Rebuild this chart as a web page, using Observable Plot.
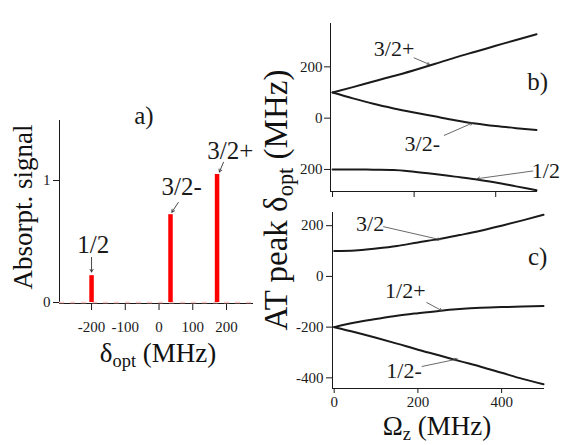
<!DOCTYPE html>
<html>
<head>
<meta charset="utf-8">
<script src="https://cdn.jsdelivr.net/npm/d3@7"></script>
<script src="https://cdn.jsdelivr.net/npm/@observablehq/plot@0.6"></script>
<style>
  html, body { margin: 0; padding: 0; background: #fff; }
  #wrap { position: relative; width: 581px; height: 445px; overflow: hidden; font-family: "Liberation Serif", "Times New Roman", serif; color: #111; }
  #wrap svg { position: absolute; left: 0; top: 0; background: transparent; }
  .title { position: absolute; font-size: 27px; line-height: 1; white-space: nowrap; transform: translate(-50%, -50%); }
  .rot { transform: translate(-50%, -50%) rotate(-90deg); }
  .title sub { font-size: 0.68em; vertical-align: -0.3em; line-height: 0; }
</style>
</head>
<body>
<div id="wrap">
  <div class="title rot" style="left:23px; top:207px;">Absorpt. signal</div>
  <div class="title" style="left:158px; top:353px;">δ<sub>opt</sub> (MHz)</div>
  <div class="title rot" style="left:276px; top:200px; font-size:33px;">AT peak δ<sub>opt</sub> (MHz)</div>
  <div class="title" style="left:437px; top:426px;">Ω<sub>z</sub> (MHz)</div>
</div>
<script>
// ---------- Panel a: absorption spectrum ----------
const lineNames = ["1/2", "3/2-", "3/2+"];
const lineDelta = [-200, 34, 172];      // MHz
const lineAmp = [0.22, 0.72, 1.05];     // absorption signal
const tickA_x = [-200, -100, 0, 100, 200];
const tickA_y = [0, 1];
// annotation anchors (data coordinates)
const labA_x = [-195, 67, 211];
const labA_y = [0.47, 0.945, 1.245];
const arrA_x1 = [-200, 57, 191], arrA_y1 = [0.37, 0.82, 1.15];
const arrA_x2 = [-200, 38, 179], arrA_y2 = [0.25, 0.74, 1.07];

// ---------- Panels b and c: AT peak positions vs Omega_z ----------
const omega = [0, 50, 100, 150, 200, 250, 300, 350, 400, 450, 500];
const b_32p = [100, 121, 143, 164, 187, 211, 236, 259, 282, 305, 327];
const b_32m = [100, 77, 56, 38, 22, 7, -8, -21, -31, -39, -46];
const b_12  = [-200, -200, -201, -202, -209, -218, -228, -238, -251, -266, -281];
const c_32  = [100, 102, 110, 120, 134, 147, 163, 180, 200, 221, 243];
const c_12p = [-200, -182, -168, -155, -145, -136, -129, -124, -121, -119, -117];
const c_12m = [-200, -220, -242, -265, -289, -311, -334, -356, -380, -404, -425];
const tickBC_x = [0, 200, 400];
const tickB_y = [-200, 0, 200];
const tickC_y = [-400, -200, 0, 200];

const labB = ["3/2+", "3/2-", "1/2"];
const labB_x = [151, 220, 523], labB_y = [270, -100, -204];
const arrB_x1 = [200, 274, 491], arrB_y1 = [235, -67, -206];
const arrB_x2 = [238, 343, 355], arrB_y2 = [209, -19, -236];

const labC = ["3/2", "1/2+", "1/2-"];
const labC_x = [86, 170, 167], labC_y = [207, -56, -372];
const arrC_x1 = [118, 221, 210], arrC_y1 = [196, -103, -355];
const arrC_x2 = [253, 257, 294], arrC_y2 = [145, -135, -326];

const font = "Liberation Serif, Times New Roman, serif";
const W = 581, H = 445;
const ink = "#1a1a1a";

function series(ys, name) { return omega.map((o, i) => ({o, v: ys[i], name})); }
function rows(n, f) { return d3.range(n).map(f); }

const wrap = document.getElementById("wrap");

// Panel a
const barsA = rows(3, i => ({x: lineDelta[i], y: lineAmp[i]}));
const labelsA = rows(3, i => ({t: lineNames[i], x: labA_x[i], y: labA_y[i]}));
const arrowsA = rows(3, i => ({x1: arrA_x1[i], y1: arrA_y1[i], x2: arrA_x2[i], y2: arrA_y2[i]}));
const plotA = Plot.plot({
  width: W, height: H,
  marginLeft: 59, marginRight: 329, marginTop: 120, marginBottom: 142,
  style: {fontFamily: font, fontSize: "15px", color: ink, background: "transparent", overflow: "visible"},
  x: {domain: [-295, 277], ticks: tickA_x, tickFormat: d => String(d), tickSize: 7, tickPadding: 11, label: null, line: true},
  y: {domain: [-0.008, 1.492], ticks: tickA_y, tickFormat: d => String(d), tickSize: 6, tickPadding: 3, label: null, line: true},
  marks: [
    Plot.ruleY([0], {stroke: "#ffc4c4", strokeWidth: 1.5, strokeDasharray: "5,6"}),
    Plot.ruleX(barsA, {x: "x", y1: 0, y2: "y", stroke: "#ff0000", strokeWidth: 4.5}),
    Plot.arrow(arrowsA, {x1: "x1", y1: "y1", x2: "x2", y2: "y2", stroke: "#333", strokeWidth: 0.9, headLength: 5}),
    Plot.text(labelsA, {x: "x", y: "y", text: "t", fontSize: 25, fill: ink}),
    Plot.text(["a)"], {x: -45, y: 1.53, text: d => d, fontSize: 25, fill: ink, clip: false})
  ]
});
wrap.appendChild(plotA);

// Panel b
const curvesB = [...series(b_32p, "3/2+"), ...series(b_32m, "3/2-"), ...series(b_12, "1/2")];
const labelsB = rows(3, i => ({t: labB[i], x: labB_x[i], y: labB_y[i]}));
const arrowsB = rows(3, i => ({x1: arrB_x1[i], y1: arrB_y1[i], x2: arrB_x2[i], y2: arrB_y2[i]}));
const plotB = Plot.plot({
  width: W, height: H,
  marginLeft: 330, marginRight: 45, marginTop: 23, marginBottom: 254,
  style: {fontFamily: font, fontSize: "15px", color: ink, background: "transparent", overflow: "visible"},
  x: {domain: [-5, 500], ticks: tickBC_x, tickFormat: () => "", tickSize: 6, label: null, line: true},
  y: {domain: [-286, 369], ticks: tickB_y, tickFormat: d => String(Math.abs(d)), tickSize: 6, tickPadding: 2, label: null, line: true},
  marks: [
    Plot.line(curvesB, {x: "o", y: "v", z: "name", stroke: ink, strokeWidth: 2, curve: "monotone-x"}),
    Plot.arrow(arrowsB, {x1: "x1", y1: "y1", x2: "x2", y2: "y2", stroke: "#444", strokeWidth: 0.8, headLength: 5}),
    Plot.text(labelsB, {x: "x", y: "y", text: "t", fontSize: 22, fill: ink}),
    Plot.text(["b)"], {x: 503, y: 140, text: d => d, fontSize: 25, fill: ink})
  ]
});
wrap.appendChild(plotB);

// Panel c
const curvesC = [...series(c_32, "3/2"), ...series(c_12p, "1/2+"), ...series(c_12m, "1/2-")];
const labelsC = rows(3, i => ({t: labC[i], x: labC_x[i], y: labC_y[i]}));
const arrowsC = rows(3, i => ({x1: arrC_x1[i], y1: arrC_y1[i], x2: arrC_x2[i], y2: arrC_y2[i]}));
const plotC = Plot.plot({
  width: W, height: H,
  marginLeft: 332, marginRight: 38, marginTop: 212, marginBottom: 57,
  style: {fontFamily: font, fontSize: "15px", color: ink, background: "transparent", overflow: "visible"},
  x: {domain: [-4, 500], ticks: tickBC_x, tickFormat: d => String(d), tickSize: 5, tickPadding: 3, label: null, line: true},
  y: {domain: [-442, 252], ticks: tickC_y, tickFormat: d => String(d), tickSize: 6, tickPadding: 3, label: null, line: true},
  marks: [
    Plot.line(curvesC, {x: "o", y: "v", z: "name", stroke: ink, strokeWidth: 2, curve: "monotone-x"}),
    Plot.arrow(arrowsC, {x1: "x1", y1: "y1", x2: "x2", y2: "y2", stroke: "#444", strokeWidth: 0.8, headLength: 5}),
    Plot.text(labelsC, {x: "x", y: "y", text: "t", fontSize: 22, fill: ink}),
    Plot.text(["c)"], {x: 486, y: 75, text: d => d, fontSize: 25, fill: ink})
  ]
});
wrap.appendChild(plotC);

// keep the HTML titles on top
wrap.querySelectorAll(".title").forEach(el => wrap.appendChild(el));
</script>
</body>
</html>
